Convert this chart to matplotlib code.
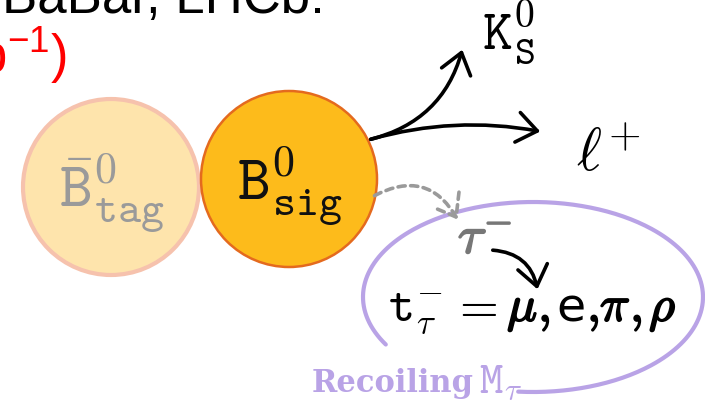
import numpy as np
import matplotlib.pyplot as plt
from matplotlib.patches import Circle, FancyArrowPatch
import matplotlib.patheffects as pe

plt.rcParams['mathtext.fontset'] = 'custom'
plt.rcParams['mathtext.rm'] = 'Liberation Sans'
plt.rcParams['mathtext.it'] = 'Liberation Sans:italic'

# nodes of the decay diagram
node_labels = [r'$\mathtt{\bar{B}}^{\mathtt{0}}_{\mathtt{tag}}$', r'$\mathtt{B}^{\mathtt{0}}_{\mathtt{sig}}$']
node_xy = [(111, 187), (289, 179)]
node_fill = ['#fee4ac', '#fdbb1b']
node_edge = ['#f6c2ad', '#e46a1e']
node_text = ['#9a9a9a', '#111111']

# decay products
prod_labels = [r'$\mathtt{K}^{\mathtt{0}}_{\mathtt{S}}$', r'$\ell^{+}$', r'$\tau^{-}$']
# tau daughter line, piece by piece (bold greek letters)
tau_parts = [r'$\mathtt{t}_{\tau}^{-}$', r'$=$', r'$\mu$', r'$,$', 'e', r'$,$', r'$\pi$', r'$,$', r'$\rho$']
tau_bold = [False, False, True, True, False, True, True, True, True]
tau_x = [388, 451, 507, 538, 556, 587, 600, 630, 649]

fig = plt.figure(figsize=(7.05, 4.07), dpi=100)
ax = fig.add_axes([0, 0, 1, 1])
ax.set_xlim(0, 705)
ax.set_ylim(407, 0)
ax.axis('off')

# header text, cut off by the frame
ax.text(2, 13, 'BaBar, LHCb:', fontsize=38, family='Liberation Sans', va='baseline', color='black')
ax.text(67, 73, r'(3 fb$^{-1}$)', fontsize=38, family='Liberation Sans', va='baseline', ha='right',
        color='red', math_fontfamily='custom')

# the two B mesons
for (x, y), fc, ec, lw in zip(node_xy, node_fill, node_edge, [3.0, 1.8]):
    ax.add_patch(Circle((x, y), 88, fc=fc, ec=ec, lw=lw, zorder=2))
ax.text(59, 207, node_labels[0], fontsize=45, color=node_text[0], va='baseline', math_fontfamily='cm', zorder=3)
ax.text(237, 200, node_labels[1], fontsize=45, color=node_text[1], va='baseline', math_fontfamily='cm', zorder=3)

# recoil ellipse (open at lower left)
t = np.radians(np.linspace(150, 455, 300))
ax.plot(533 + 170 * np.cos(t), 297 + 95 * np.sin(t), color='#b9a3e6', lw=3, solid_capstyle='round', zorder=1)

def arrow(a, b, rad, color='black', ls='-'):
    ax.add_patch(FancyArrowPatch(a, b, connectionstyle=f'arc3,rad={rad}',
                                 arrowstyle='->,head_length=0.6,head_width=0.45', mutation_scale=24,
                                 lw=2.6, color=color, linestyle=ls, capstyle='round', zorder=4))

arrow((368, 140), (463, 47), 0.3)
arrow((368, 140), (543, 132), -0.12)
arrow((372, 197), (459, 222), -0.5, color='#9a9a9a', ls=(0, (2, 1.5)))
arrow((490, 250), (538, 292), -0.4)

ax.text(482, 50, prod_labels[0], fontsize=41, va='baseline', math_fontfamily='cm')
ax.text(576, 171, prod_labels[1], fontsize=43, va='baseline', math_fontfamily='cm')
ax.text(458, 253, prod_labels[2], fontsize=38, va='baseline', color='#777777', math_fontfamily='cm',
        path_effects=[pe.withStroke(linewidth=1.4, foreground='#777777')])

for s, b, x in zip(tau_parts, tau_bold, tau_x):
    fx = [pe.withStroke(linewidth=1.3, foreground='black')] if b else []
    size = 34 if s == 'e' else 36
    ax.text(x, 321, s, fontsize=size, va='baseline', math_fontfamily='cm', family='DejaVu Sans',
            path_effects=fx)

ax.text(312, 392, 'Recoiling', fontsize=22, family='DejaVu Serif', weight='bold', color='#b9a3e6', va='baseline')
ax.text(479, 392, r'$\mathtt{M}_{\tau}$', fontsize=32, color='#b9a3e6', va='baseline', math_fontfamily='cm')

fig.savefig('out.png', dpi=100)
